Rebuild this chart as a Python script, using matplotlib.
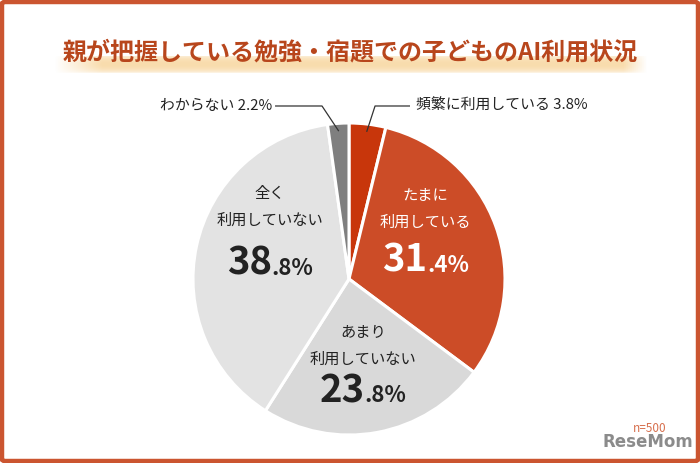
import matplotlib
matplotlib.use("Agg")
import matplotlib.pyplot as plt
import numpy as np
from matplotlib.patches import FancyBboxPatch

plt.rcParams['font.family'] = ['Noto Sans CJK JP', 'DejaVu Sans']

title = "親が把握している勉強・宿題での子どものAI利用状況"
categories = ["頻繁に利用している", "たまに利用している", "あまり利用していない", "全く利用していない", "わからない"]
values = [3.8, 31.4, 23.8, 38.8, 2.2]
colors = ["#c8360b", "#cc4c27", "#d9d9d9", "#e3e3e3", "#7f7f7f"]
inner_titles = {1: "たまに\n利用している", 2: "あまり\n利用していない", 3: "全く\n利用していない"}
inner_colors = {1: "white", 2: "#222222", 3: "#222222"}
n_note = "n=500"

W, H = 700, 463
fig = plt.figure(figsize=(W / 100, H / 100), dpi=100)
fig.patch.set_facecolor("white")

# border
border = FancyBboxPatch((2 / W, 2 / H), 1 - 4 / W, 1 - 4 / H,
                        boxstyle="round,pad=0,rounding_size=0.004",
                        transform=fig.transFigure, fill=False,
                        edgecolor="#cb5530", linewidth=3.2)
fig.patches.append(border)

# title band
band_ax = fig.add_axes([54 / W, 1 - 73 / H, (647 - 54) / W, 17 / H])
band_ax.axis("off")
nx, ny = 300, 20
xs = np.linspace(0, 1, nx)
ys = np.linspace(0, 1, ny)
ax_alpha = np.clip(xs / 0.08, 0, 1) * np.clip((1 - xs) / 0.04, 0, 1)
ay_alpha = 0.3 + 0.6 * np.sin(np.pi * np.clip(ys * 0.95 + 0.05, 0, 1)) ** 0.6
alpha = np.outer(ay_alpha, ax_alpha)
img = np.zeros((ny, nx, 4))
img[..., 0] = 0.976
img[..., 1] = 0.85
img[..., 2] = 0.64
img[..., 3] = alpha
band_ax.imshow(img, aspect="auto", extent=(0, 1, 0, 1))

fig.text(350 / W, 1 - 52 / H, title, ha="center", va="center",
         fontsize=17.3, fontweight="bold", color="#b8461c")

# pie
cx, cy, R = 349, 279, 156
ax = fig.add_axes([(cx - R) / W, (H - cy - R) / H, 2 * R / W, 2 * R / H])
wedges, _ = ax.pie(values, colors=colors, startangle=90, counterclock=False,
                   wedgeprops=dict(edgecolor="white", linewidth=2.2))
ax.set_xlim(-1, 1)
ax.set_ylim(-1, 1)
ax.set_aspect("equal")
ax.axis("off")

# inner label positions (data units of radius)
inner_pos = {1: (0.49, 0.45, 0.045), 2: (0.09, -0.43, -0.79), 3: (-0.506, 0.464, 0.026)}

fig.canvas.draw()
renderer = fig.canvas.get_renderer()
for i, (x, ty, by) in inner_pos.items():
    col = inner_colors[i]
    ax.text(x, ty, inner_titles[i], ha="center", va="center", fontsize=11,
            color=col, linespacing=1.75)
    s = f"{values[i]:.1f}"
    big, small = s.split(".")
    small = "." + small + "%"
    tb = ax.text(0, by, big, ha="right", va="baseline", fontsize=27.5,
                 fontweight="bold", color=col)
    ts = ax.text(0, by, small, ha="left", va="baseline", fontsize=16,
                 fontweight="bold", color=col)
    wb = tb.get_window_extent(renderer).width
    ws = ts.get_window_extent(renderer).width
    x0 = x + ((wb - ws) / 2) / R
    tb.set_x(x0)
    ts.set_x(x0)

# outside labels with leader lines
def mid_angle(idx):
    start = sum(values[:idx]) / sum(values) * 360
    end = sum(values[:idx + 1]) / sum(values) * 360
    return np.deg2rad((start + end) / 2)

for idx, elbow_x, end_x in [(0, 0.167, 0.391), (4, -0.173, -0.474)]:
    a = mid_angle(idx)
    px, py = 0.95 * np.sin(a), 0.95 * np.cos(a)
    ey = 1.109
    ax.plot([px, elbow_x, end_x], [py, ey, ey], color="#333333", lw=0.9,
            clip_on=False, solid_capstyle="butt")
    label = f"{categories[idx]} {values[idx]:.1f}%"
    if end_x > 0:
        ax.text(end_x + 0.04, ey, label, ha="left", va="center", fontsize=10.7,
                color="#222222", clip_on=False)
    else:
        ax.text(end_x - 0.02, ey, label, ha="right", va="center", fontsize=10.7,
                color="#222222", clip_on=False)

# note and watermark
fig.text(650 / W, 1 - 428 / H, n_note, ha="center", va="center", fontsize=8.5,
         color="#d0562e", alpha=0.85)
fig.text(648 / W, 1 - 442 / H, "ReseMom", ha="center", va="center", fontsize=12,
         fontweight="bold", color="#777777", alpha=0.85, family=["DejaVu Sans"])

fig.savefig("out.png", dpi=100, facecolor="white")
